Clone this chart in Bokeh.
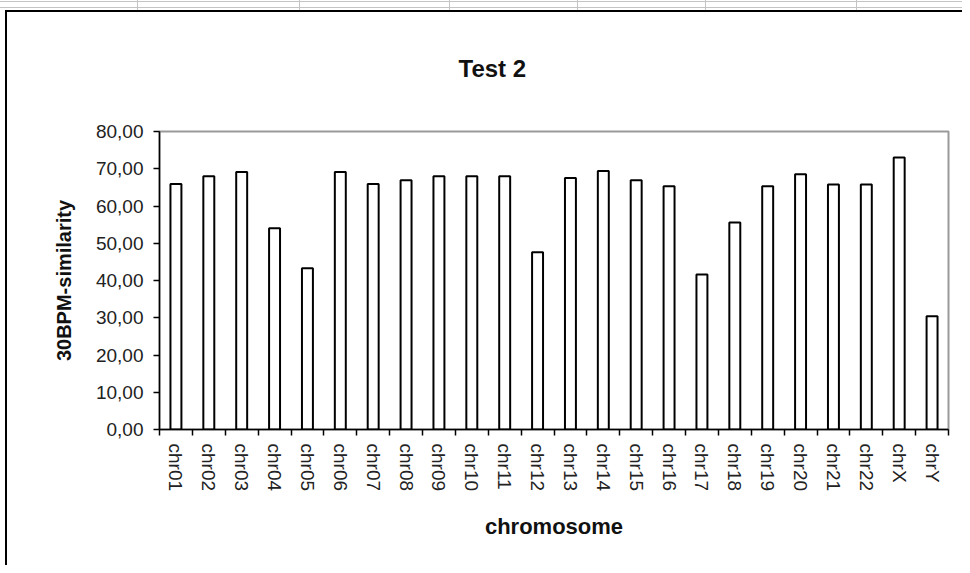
from bokeh.plotting import figure
from bokeh.models import Range1d, FixedTicker
from bokeh.embed import file_html
from bokeh.resources import INLINE

categories = ["chr01", "chr02", "chr03", "chr04", "chr05", "chr06", "chr07", "chr08",
              "chr09", "chr10", "chr11", "chr12", "chr13", "chr14", "chr15", "chr16",
              "chr17", "chr18", "chr19", "chr20", "chr21", "chr22", "chrX", "chrY"]
similarity = [65.9, 68.0, 69.1, 54.0, 43.3, 69.1, 65.9, 66.9,
              68.0, 68.0, 68.0, 47.6, 67.5, 69.4, 66.9, 65.3,
              41.6, 55.6, 65.3, 68.5, 65.8, 65.8, 73.0, 30.4]
y_ticks = [0, 10, 20, 30, 40, 50, 60, 70, 80]
y_tick_labels = ["0,00", "10,00", "20,00", "30,00", "40,00", "50,00", "60,00", "70,00", "80,00"]
chart_title = "Test 2"

FONT = "Liberation Sans"

positions = list(range(len(categories)))
boundaries = [i - 0.5 for i in range(len(categories) + 1)]

p = figure(width=962, height=565, output_backend="svg", toolbar_location=None,
           x_range=Range1d(-0.5, len(categories) - 0.5),
           y_range=Range1d(y_ticks[0], y_ticks[-1]),
           min_border_left=159, min_border_right=14,
           min_border_top=131, min_border_bottom=136)

# Excel chart-area border and the spreadsheet grid peeking above it,
# painted as host background behind a transparent border fill
def band(color, x, y, w, h):
    return f"linear-gradient({color},{color}) {x} {y} / {w} {h} no-repeat"

grid_cols = [137, 299, 449, 577, 705, 856]
layers = [band("#000", "5px", "10px", "100%", "2px"),
          band("#000", "5px", "10px", "2px", "100%"),
          band("#c4c4c4", "0", "1px", "100%", "1px"),
          band("#c4c4c4", "0", "7px", "100%", "1px")]
layers += [band("#c4c4c4", f"{c}px", "0", "1px", "10px") for c in grid_cols]
p.styles = {"background": ", ".join(layers + ["#fff"])}

p.title.text = chart_title
p.title.text_font = FONT
p.title.text_font_size = "24px"
p.title.text_font_style = "bold"
p.title.text_color = "#111111"
p.title.align = "left"
p.title.offset = 299
p.title.standoff = 100

p.vbar(x=positions, top=similarity, width=1/3, bottom=0,
       fill_color="white", line_color="black", line_width=2)

p.grid.visible = False
p.outline_line_color = "#9a9a9a"
p.outline_line_width = 2
p.background_fill_color = "white"
p.border_fill_color = None

xa = p.xaxis[0]
xa.ticker = FixedTicker(ticks=positions, minor_ticks=boundaries)
xa.major_label_overrides = {i: c for i, c in zip(positions, categories)}
xa.major_label_orientation = "vertical"
xa.major_tick_out = 0
xa.major_tick_in = 0
xa.minor_tick_out = 6
xa.minor_tick_in = 0
xa.minor_tick_line_color = "black"
xa.minor_tick_line_width = 1.5
xa.axis_line_color = "black"
xa.axis_line_width = 1.5
xa.major_label_text_font = FONT
xa.major_label_text_font_size = "19px"
xa.major_label_text_color = "#222222"
xa.major_label_standoff = 8
xa.axis_label = "chromosome"
xa.axis_label_text_font = FONT
xa.axis_label_text_font_size = "22px"
xa.axis_label_text_font_style = "bold"
xa.axis_label_text_color = "#111111"
xa.axis_label_standoff = 20

ya = p.yaxis[0]
ya.ticker = FixedTicker(ticks=y_ticks)
ya.major_label_overrides = {t: l for t, l in zip(y_ticks, y_tick_labels)}
ya.major_tick_out = 6
ya.major_tick_in = 0
ya.major_tick_line_color = "black"
ya.major_tick_line_width = 1.5
ya.minor_tick_line_color = None
ya.axis_line_color = "black"
ya.axis_line_width = 1.5
ya.major_label_text_font = FONT
ya.major_label_text_font_size = "19px"
ya.major_label_text_color = "#222222"
ya.major_label_standoff = 10
ya.axis_label = "30BPM-similarity"
ya.axis_label_text_font = FONT
ya.axis_label_text_font_size = "20px"
ya.axis_label_text_font_style = "bold"
ya.axis_label_text_color = "#111111"
ya.axis_label_standoff = 18

open("out.html", "w").write(file_html(p, INLINE))
